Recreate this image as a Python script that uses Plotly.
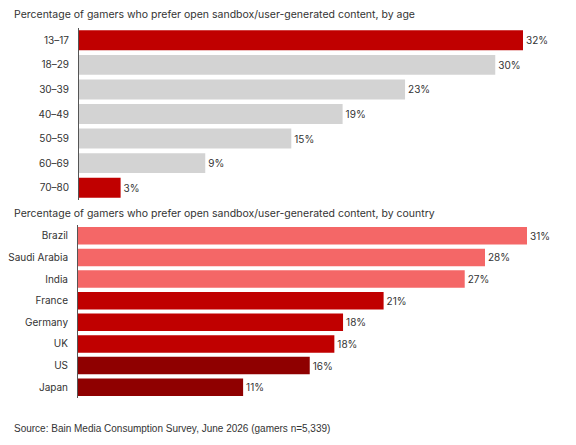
import plotly.graph_objects as go

# age panel (bar lengths, labels as printed)
age_groups = ['13–17', '18–29', '30–39', '40–49', '50–59', '60–69', '70–80']
age_pct = [32, 30, 23.5, 19, 15.3, 9.1, 3]
age_labels = ['32%', '30%', '23%', '19%', '15%', '9%', '3%']
age_colors = ['#C00000', '#D3D3D3', '#D3D3D3', '#D3D3D3', '#D3D3D3', '#D3D3D3', '#C00000']

# country panel
countries = ['Brazil', 'Saudi Arabia', 'India', 'France', 'Germany', 'UK', 'US', 'Japan']
country_pct = [31, 28.1, 26.7, 21.1, 18.3, 17.7, 16, 11.4]
country_labels = ['31%', '28%', '27%', '21%', '18%', '18%', '16%', '11%']
country_colors = ['#F46767', '#F46767', '#F46767', '#C00000', '#C00000', '#C00000', '#8F0000', '#8F0000']

title_age = 'Percentage of gamers who prefer open sandbox/user-generated content, by age'
title_country = 'Percentage of gamers who prefer open sandbox/user-generated content, by country'
source = 'Source: Bain Media Consumption Survey, June 2026 (gamers n=5,339)'

W, H = 576, 445
OFF = 8  # page offset seen in the screenshot
FONT = 'Inter'
TXT = '#333333'


def px_x(x):
    return (x - OFF) / W


def px_y(y):
    return 1 - (y - OFF) / H


fig = go.Figure()

fig.add_trace(go.Bar(
    x=age_pct, y=age_groups, orientation='h',
    marker=dict(color=age_colors, line=dict(width=0)),
    text=age_labels, textposition='outside',
    textfont=dict(size=10, color=TXT, family=FONT),
    cliponaxis=False, xaxis='x', yaxis='y', hoverinfo='skip',
))

fig.add_trace(go.Bar(
    x=country_pct, y=countries, orientation='h',
    marker=dict(color=country_colors, line=dict(width=0)),
    text=country_labels, textposition='outside',
    textfont=dict(size=10, color=TXT, family=FONT),
    cliponaxis=False, xaxis='x2', yaxis='y2', hoverinfo='skip',
))

yax = dict(autorange='reversed', showline=True, linecolor='#555555', linewidth=1,
           ticks='', showgrid=False, zeroline=False, ticklabelstandoff=7,
           tickfont=dict(size=10, color=TXT, family=FONT))
xax = dict(visible=False, showgrid=False, zeroline=False)

fig.update_layout(
    width=W, height=H,
    margin=dict(l=0, r=0, t=0, b=0),
    paper_bgcolor='white', plot_bgcolor='white',
    showlegend=False,
    bargap=0.19,
    font=dict(family=FONT, color=TXT),
    xaxis=dict(xax, domain=[px_x(79), px_x(523)], range=[0, 32], anchor='y'),
    yaxis=dict(yax, domain=[px_y(200), px_y(28)], anchor='x'),
    xaxis2=dict(xax, domain=[px_x(78), px_x(527)], range=[0, 31], anchor='y2'),
    yaxis2=dict(yax, domain=[px_y(398), px_y(225)], anchor='x2'),
    annotations=[
        dict(text=title_age, x=px_x(12), y=px_y(15), xref='paper', yref='paper',
             xanchor='left', yanchor='middle', showarrow=False,
             font=dict(size=10.5, color=TXT, family=FONT)),
        dict(text=title_country, x=px_x(12), y=px_y(213), xref='paper', yref='paper',
             xanchor='left', yanchor='middle', showarrow=False,
             font=dict(size=10.5, color=TXT, family=FONT)),
        dict(text=source, x=px_x(12), y=px_y(428), xref='paper', yref='paper',
             xanchor='left', yanchor='middle', showarrow=False,
             font=dict(size=10, color=TXT, family='Liberation Sans')),
    ],
)

fig.write_html('out.html')
